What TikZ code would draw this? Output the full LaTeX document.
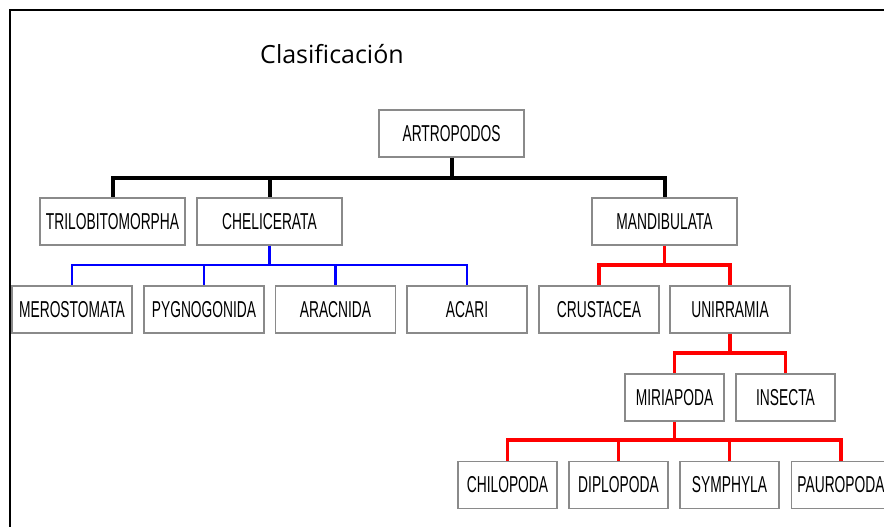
\documentclass[tikz,border=0pt]{standalone}
\usepackage{fontspec}
\usepackage{xcolor}
\usepackage{tikz}
\usetikzlibrary{positioning}
\newfontfamily\boxfont[FakeStretch=0.6]{Liberation Sans}
\newfontfamily\titlefont{Open Sans}
\definecolor{tree-gray}{HTML}{8A8A8A}
\definecolor{tree-red}{HTML}{FF0000}
\definecolor{tree-blue}{HTML}{0000FF}

\begin{document}
\begin{tikzpicture}[
    x=1pt, y=-1pt,
    box/.style={draw=tree-gray, line width=1.3pt, minimum width=145pt, minimum height=47pt,
                inner sep=0pt, font=\boxfont\fontsize{23}{26}\selectfont},
    mid/.style={box, minimum width=120pt},
    small/.style={box, minimum width=99pt},
    blackline/.style={line width=4pt, black},
    blueline/.style={line width=2.7pt, tree-blue},
    redline/.style={line width=3.1pt, tree-red},
]
    \useasboundingbox (0,0) rectangle (884,527);

    % Frame
    \draw[line width=2.2pt] (884,10) -- (10,10) -- (10,527);

    % Title
    \node[font=\titlefont\fontsize{25}{28}\selectfont] (title) at (332,54) {Clasificación};

    % Top level
    \node[box] (artro) at (451.5,133.5) {ARTROPODOS};

    % Subphyla
    \node[box] (trilo) at (112.5,221.5) {TRILOBITOMORPHA};
    \node[box] (chel)  at (269.5,221.5) {CHELICERATA};
    \node[box] (mand)  at (664.5,221.5) {MANDIBULATA};

    % Chelicerata groups
    \node[mid] (mero) at (72,309.5)  {MEROSTOMATA};
    \node[mid] (pygn) at (204,309.5) {PYGNOGONIDA};
    \node[mid] (arac) at (335.5,309.5) {ARACNIDA};
    \node[mid] (acar) at (467,309.5) {ACARI};

    % Mandibulata groups
    \node[mid] (crus) at (599,309.5) {CRUSTACEA};
    \node[mid] (unir) at (730,309.5) {UNIRRAMIA};

    % Unirramia groups
    \node[small] (miri) at (674.5,397.5) {MIRIAPODA};
    \node[small] (inse) at (785.5,397.5) {INSECTA};

    % Miriapoda groups
    \node[small] (chil) at (507.5,485) {CHILOPODA};
    \node[small] (dipl) at (618.5,485) {DIPLOPODA};
    \node[small] (symp) at (729.5,485) {SYMPHYLA};
    \node[small] (paur) at (841,485)   {PAUROPODA};

    % Junctions
    \coordinate (j-artro) at (451.5,178);
    \coordinate (j-chel)  at (269.5,265);
    \coordinate (j-mand)  at (664.5,265);
    \coordinate (j-unir)  at (730,353);
    \coordinate (j-miri)  at (674.5,440);

    % Connectors
    \draw[blackline] (artro) -- (j-artro);
    \foreach \c in {trilo, chel, mand}
        \draw[blackline] (j-artro) -| (\c.north);

    \draw[blueline] (chel) -- (j-chel);
    \foreach \c in {mero, pygn, arac, acar}
        \draw[blueline] (j-chel) -| (\c.north);

    \draw[redline] (mand) -- (j-mand);
    \foreach \c in {crus, unir}
        \draw[redline] (j-mand) -| (\c.north);

    \draw[redline] (unir) -- (j-unir);
    \foreach \c in {miri, inse}
        \draw[redline] (j-unir) -| (\c.north);

    \draw[redline] (miri) -- (j-miri);
    \foreach \c in {chil, dipl, symp, paur}
        \draw[redline] (j-miri) -| (\c.north);
\end{tikzpicture}
\end{document}
